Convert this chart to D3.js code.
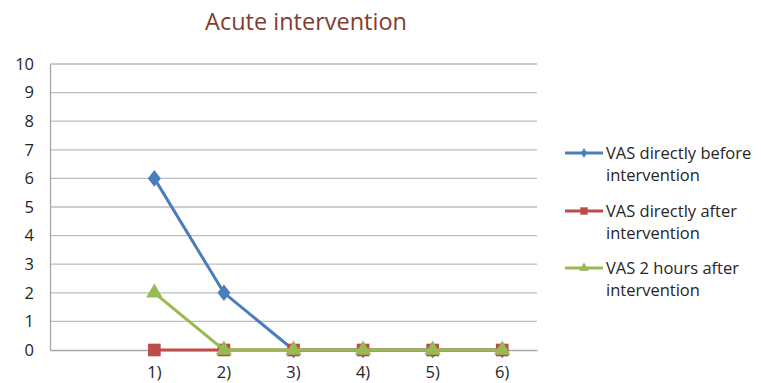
<!DOCTYPE html>
<html>
<head>
<meta charset="utf-8">
<script src="https://cdn.jsdelivr.net/npm/d3@7"></script>
<style>
  body { margin: 0; background: #fff; }
  text { font-family: "Open Sans", Lato, sans-serif; }
</style>
</head>
<body>
<div id="chart"></div>
<script>
// categories (first slot is empty in the original)
const categories = ["", "1)", "2)", "3)", "4)", "5)", "6)"];
const yTicks = [0, 1, 2, 3, 4, 5, 6, 7, 8, 9, 10];

const seriesNames = [
  ["VAS directly before", "intervention"],
  ["VAS directly after", "intervention"],
  ["VAS 2 hours after", "intervention"]
];
const beforeValues = [null, 6, 2, 0, 0, 0, 0];
const afterValues = [null, 0, 0, 0, 0, 0, 0];
const twoHourValues = [null, 2, 0, 0, 0, 0, 0];

const width = 761, height = 383;
const margin = { left: 50, right: 224, top: 64, bottom: 33 };
const font = "'Open Sans', Lato, sans-serif";

const svg = d3.select("#chart").append("svg")
  .attr("width", width)
  .attr("height", height);

const x = d3.scaleBand()
  .domain(categories.map((d, i) => i))
  .range([margin.left, width - margin.right]);

const y = d3.scaleLinear()
  .domain([0, 10])
  .range([height - margin.bottom, margin.top]);

// title
svg.append("text")
  .attr("x", 306)
  .attr("y", 30)
  .attr("text-anchor", "middle")
  .attr("fill", "#843c2c")
  .style("font-size", "23.5px")
  .text("Acute intervention");

// gridlines
svg.append("g")
  .selectAll("line")
  .data(yTicks.filter(d => d > 0))
  .enter()
  .append("line")
  .attr("x1", margin.left)
  .attr("x2", width - margin.right)
  .attr("y1", d => y(d))
  .attr("y2", d => y(d))
  .attr("stroke", "#bdbdbd")
  .attr("stroke-width", 1.3);

// y axis
const yAxis = svg.append("g")
  .attr("transform", `translate(${margin.left},0)`)
  .call(d3.axisLeft(y).tickValues(yTicks).tickSize(0).tickPadding(16));
yAxis.select(".domain").attr("stroke", "#a6a6a6").attr("stroke-width", 1.3);
yAxis.selectAll("text").attr("fill", "#262626").style("font-size", "16.5px")
  .style("font-family", font);

// x axis
const xAxis = svg.append("g")
  .attr("transform", `translate(0,${y(0)})`)
  .call(d3.axisBottom(x).tickFormat(i => categories[i]).tickSize(0).tickPadding(16));
xAxis.select(".domain").attr("stroke", "#a6a6a6").attr("stroke-width", 1.3);
xAxis.selectAll("text").attr("fill", "#262626").style("font-size", "16.5px")
  .style("font-family", font);

const series = [
  { values: beforeValues, color: "#4a7ebb", symbol: d3.symbolDiamond, size: 80, legendSize: 30 },
  { values: afterValues, color: "#be4b48", symbol: d3.symbolSquare, size: 160, legendSize: 55 },
  { values: twoHourValues, color: "#98b954", symbol: d3.symbolTriangle, size: 115, legendSize: 40 }
];

const cx = i => x(i) + x.bandwidth() / 2;

const line = d3.line()
  .defined(d => d != null)
  .x((d, i) => cx(i))
  .y(d => y(d));

series.forEach(s => {
  const g = svg.append("g");
  g.append("path")
    .datum(s.values)
    .attr("d", line)
    .attr("fill", "none")
    .attr("stroke", s.color)
    .attr("stroke-width", 3);
  g.selectAll("path.pt")
    .data(s.values.map((v, i) => ({ v, i })).filter(d => d.v != null))
    .enter()
    .append("path")
    .attr("class", "pt")
    .attr("d", d3.symbol().type(s.symbol).size(s.size))
    .attr("transform", d => `translate(${cx(d.i)},${y(d.v)})` + (s.symbol === d3.symbolDiamond ? " scale(1.35,1)" : ""))
    .attr("fill", s.color);
});

// legend
const legend = svg.append("g");
const legendY = [153, 211, 268];
series.forEach((s, k) => {
  const ly = legendY[k];
  legend.append("line")
    .attr("x1", 565).attr("x2", 603)
    .attr("y1", ly).attr("y2", ly)
    .attr("stroke", s.color)
    .attr("stroke-width", 3);
  legend.append("path")
    .attr("d", d3.symbol().type(s.symbol).size(s.legendSize))
    .attr("transform", `translate(584,${ly})`)
    .attr("fill", s.color);
  seriesNames[k].forEach((t, j) => {
    legend.append("text")
      .attr("x", 606)
      .attr("y", ly + 6 + j * 22)
      .attr("fill", "#262626")
      .style("font-size", "16.5px")
      .text(t);
  });
});
</script>
</body>
</html>
